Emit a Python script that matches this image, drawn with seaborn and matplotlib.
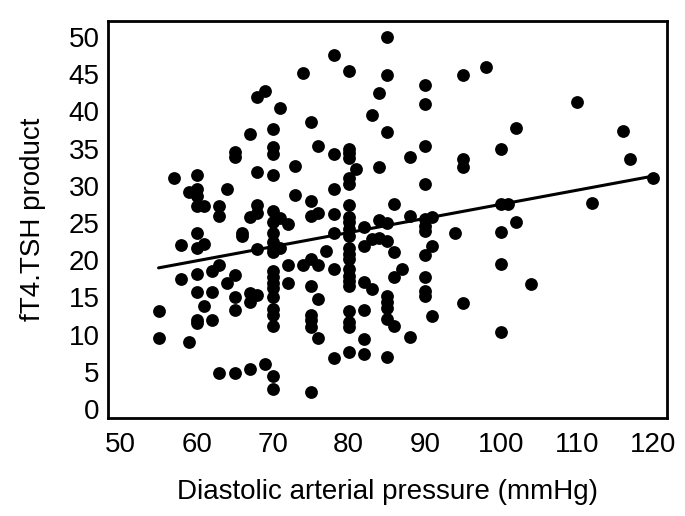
import matplotlib
matplotlib.use("Agg")
import matplotlib.pyplot as plt
import seaborn as sns
import numpy as np
import pandas as pd

# Data: diastolic pressure (key) -> fT4.TSH product values
groups = {
    55: [13.2, 9.5],
    57: [31.1],
    58: [22.0, 17.5],
    59: [29.2, 9.0],
    60: [31.5, 29.5, 28.6, 27.3, 23.7, 21.7, 18.1, 15.7, 12.0, 11.6],
    61: [27.3, 22.2, 13.9],
    62: [18.5, 15.7, 11.9],
    63: [27.3, 26.0, 19.4, 4.9],
    64: [29.5, 17.0],
    65: [34.5, 33.8, 18.0, 15.1, 13.3, 4.8],
    66: [23.7, 23.2],
    67: [37.0, 25.8, 15.6, 14.4, 5.4],
    68: [41.9, 31.8, 27.4, 26.4, 21.5, 15.3],
    69: [42.7, 6.1],
    70: [37.6, 35.2, 34.3, 31.5, 26.6, 25.1, 23.7, 22.4, 21.7, 21.1, 18.6,
         17.7, 17.0, 16.3, 15.0, 13.4, 12.7, 11.2, 4.5, 2.7],
    71: [40.4, 25.7, 21.7],
    72: [24.8, 19.3, 17.0],
    73: [32.7, 28.8],
    74: [45.2, 19.4],
    75: [38.6, 28.0, 25.9, 20.2, 16.5, 12.7, 12.0, 11.0, 2.3],
    76: [35.3, 26.4, 19.3, 14.8, 9.6],
    77: [21.3],
    78: [47.6, 34.2, 29.5, 26.2, 23.6, 18.8, 6.9],
    80: [45.4, 35.0, 34.4, 33.7, 31.1, 30.2, 27.4, 25.8, 25.1, 24.2, 23.3,
         21.7, 20.8, 20.2, 18.8, 17.9, 17.2, 16.5, 13.2, 11.7, 11.0, 7.6],
    81: [32.3],
    82: [24.4, 21.9, 17.1, 13.3, 9.4, 7.4],
    83: [39.5, 22.8, 16.1],
    84: [42.4, 32.5, 25.4, 23.0],
    85: [50.0, 44.9, 37.2, 25.0, 22.6, 15.2, 14.4, 13.6, 12.1, 7.0],
    86: [27.5, 21.1, 17.7, 11.1],
    87: [18.8],
    88: [33.8, 25.9, 9.7],
    90: [43.5, 41.0, 35.3, 30.2, 25.5, 24.6, 23.9, 20.7, 17.8, 15.9, 15.2],
    91: [25.8, 21.9, 12.5],
    94: [23.6],
    95: [44.9, 33.6, 32.5, 14.2],
    98: [45.9],
    100: [34.9, 27.5, 23.8, 19.5, 10.4],
    101: [27.5],
    102: [37.7, 25.1],
    104: [16.8],
    110: [41.3],
    112: [27.7],
    116: [37.4],
    117: [33.6],
    120: [31.1],
}
pressure = [k for k, v in groups.items() for _ in v]
product = [y for k, v in groups.items() for y in v]

x_ticks = [50, 60, 70, 80, 90, 100, 110, 120]
y_ticks = [0, 5, 10, 15, 20, 25, 30, 35, 40, 45, 50]
x_label = "Diastolic arterial pressure (mmHg)"
y_label = "fT4.TSH product"

df = pd.DataFrame({"pressure": pressure, "product": product})

sns.set_theme(style="white")
plt.rcParams["font.family"] = ["Liberation Sans", "DejaVu Sans"]

fig = plt.figure(figsize=(6.85, 5.16), dpi=100)
ax = fig.add_axes([108 / 685, 1 - 418 / 516, (667 - 108) / 685, (418 - 20.5) / 516])

sns.scatterplot(data=df, x="pressure", y="product", ax=ax, color="black",
                s=85, linewidth=0, zorder=3)
sns.regplot(data=df, x="pressure", y="product", ax=ax, scatter=False, ci=None,
            color="black", line_kws={"linewidth": 2.2, "zorder": 4})

ax.set_xlim(48.35, 121.85)
ax.set_ylim(-1.2, 52.2)
ax.set_xticks(x_ticks)
ax.set_yticks(y_ticks)
ax.set_xticklabels([str(t) for t in x_ticks])
ax.set_yticklabels([str(t) for t in y_ticks])
ax.tick_params(axis="both", length=0, labelsize=20, colors="black")
ax.tick_params(axis="x", pad=10)
ax.tick_params(axis="y", pad=6)
ax.set_xlabel(x_label, fontsize=20, color="black", labelpad=15)
ax.set_ylabel(y_label, fontsize=20, color="black", labelpad=16)
for sp in ax.spines.values():
    sp.set_visible(True)
    sp.set_color("black")
    sp.set_linewidth(2.0)
ax.grid(False)

fig.savefig("out.png", dpi=100)
